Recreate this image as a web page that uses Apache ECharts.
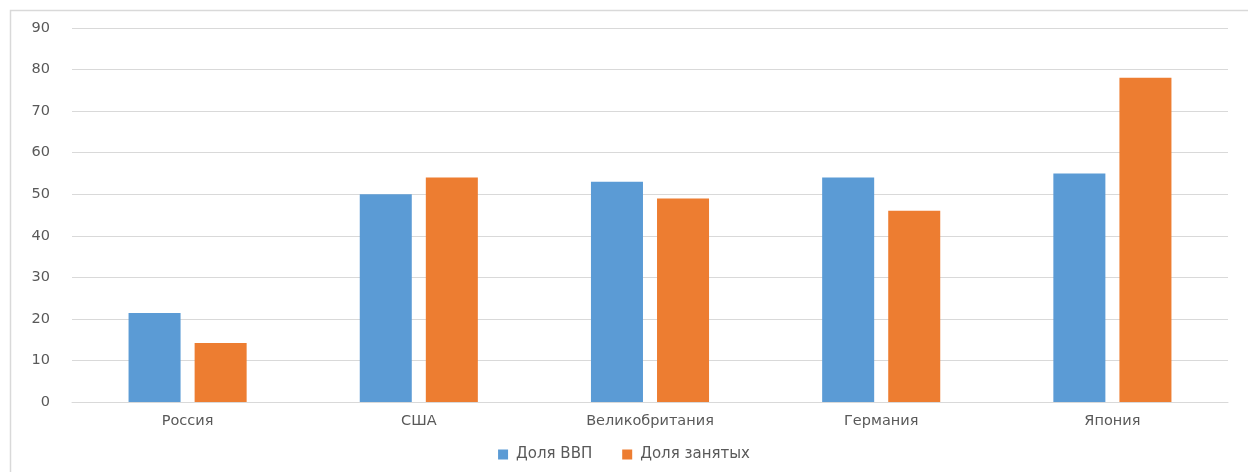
<!DOCTYPE html>
<html>
<head>
<meta charset="UTF-8">
<title></title>
<script src="https://cdn.jsdelivr.net/npm/echarts@6/dist/echarts.min.js"></script>
<style>
  html, body { margin: 0; padding: 0; background: #fff; }
</style>
</head>
<body>
<div id="main" style="width: 1248px; height: 472px;"></div>
<script type="text/javascript">
var countries = ['Россия', 'США', 'Великобритания', 'Германия', 'Япония'];
var gdpShare = [21.4, 50, 53, 54, 55];
var employedShare = [14.2, 54, 49, 46, 78];
var seriesNames = ['Доля ВВП', 'Доля занятых'];

var chart = echarts.init(document.getElementById('main'));

var textColor = '#595959';
var fontFamily = 'DejaVu Sans, sans-serif';

chart.setOption({
  animation: false,
  // outer chart frame
  graphic: [{
    type: 'rect',
    shape: { x: 10.5, y: 10.5, width: 1260, height: 500 },
    style: { fill: 'none', stroke: '#d9d9d9', lineWidth: 1.5 },
    silent: true
  }],
  color: ['#5b9bd5', '#ed7d31'],
  grid: { left: 72, right: 20, top: 28, bottom: 70 },
  legend: {
    data: seriesNames,
    bottom: 5,
    left: 'center',
    itemWidth: 10,
    itemHeight: 10,
    itemGap: 30,
    icon: 'rect',
    textStyle: { color: textColor, fontSize: 15, fontFamily: fontFamily, padding: [0, 0, 0, 3] }
  },
  xAxis: {
    type: 'category',
    data: countries,
    axisLine: { lineStyle: { color: '#d9d9d9' } },
    axisTick: { show: false },
    axisLabel: { color: textColor, fontSize: 14.5, fontFamily: fontFamily, margin: 12 }
  },
  yAxis: {
    type: 'value',
    min: 0,
    max: 90,
    interval: 10,
    axisLine: { show: false },
    axisTick: { show: false },
    splitLine: { lineStyle: { color: '#d9d9d9' } },
    axisLabel: { color: textColor, fontSize: 14.5, fontFamily: fontFamily, margin: 22 }
  },
  series: [{
    name: seriesNames[0],
    type: 'bar',
    data: gdpShare,
    barWidth: '22.5%',
    barGap: '27%'
  }, {
    name: seriesNames[1],
    type: 'bar',
    data: employedShare,
    barWidth: '22.5%'
  }]
});
</script>
</body>
</html>
